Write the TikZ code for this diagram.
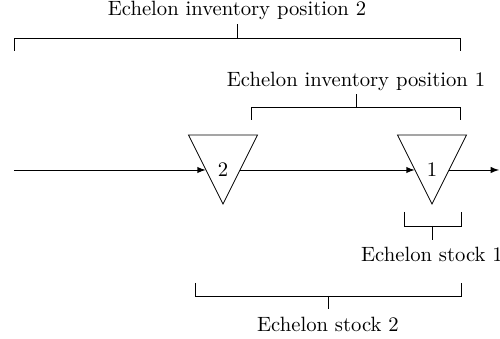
\documentclass[tikz,border=0pt]{standalone}
\begin{document}
\begin{tikzpicture}[x=0.85cm,y=0.85cm,>=latex]
  \tikzset{stock/.style={inner sep=0pt, minimum width=0.578cm, minimum height=0.5cm}}
  \useasboundingbox (-0.28,-3.38) rectangle (9.72,3.4);

  % flow line
  \coordinate (in) at (0,0);
  \node[stock] (s2) at (4.18,0) {2};
  \node[stock] (s1) at (8.36,0) {1};
  \coordinate (out) at (9.7,0);

  \foreach \s in {s1,s2}
    \draw ([shift={(-0.69,0.7)}]\s.center) -- ++(1.38,0) -- ++(-0.69,-1.38) -- cycle;

  \draw[->] (in) -- (s2);
  \draw[->] (s2) -- (s1);
  \draw[->] (s1) -- (out);

  % echelon inventory positions
  \node (eip2) at (4.46,3.19) {Echelon inventory position 2};
  \draw (0,2.38) -- (0,2.64) -- (8.92,2.64) -- (8.92,2.38);
  \draw (4.46,2.64) -- (4.46,2.92);

  \node (eip1) at (6.84,1.78) {Echelon inventory position 1};
  \draw (4.74,1.0) -- (4.74,1.26) -- (8.92,1.26) -- (8.92,1.0);
  \draw (6.84,1.26) -- (6.84,1.52);

  % echelon stocks
  \node (es1) at (8.36,-1.69) {Echelon stock 1};
  \draw (7.8,-0.84) -- (7.8,-1.12) -- (8.94,-1.12) -- (8.94,-0.84);
  \draw (8.36,-1.12) -- (8.36,-1.4);

  \node (es2) at (6.28,-3.09) {Echelon stock 2};
  \draw (3.62,-2.26) -- (3.62,-2.52) -- (8.94,-2.52) -- (8.94,-2.26);
  \draw (6.28,-2.52) -- (6.28,-2.78);
\end{tikzpicture}
\end{document}
